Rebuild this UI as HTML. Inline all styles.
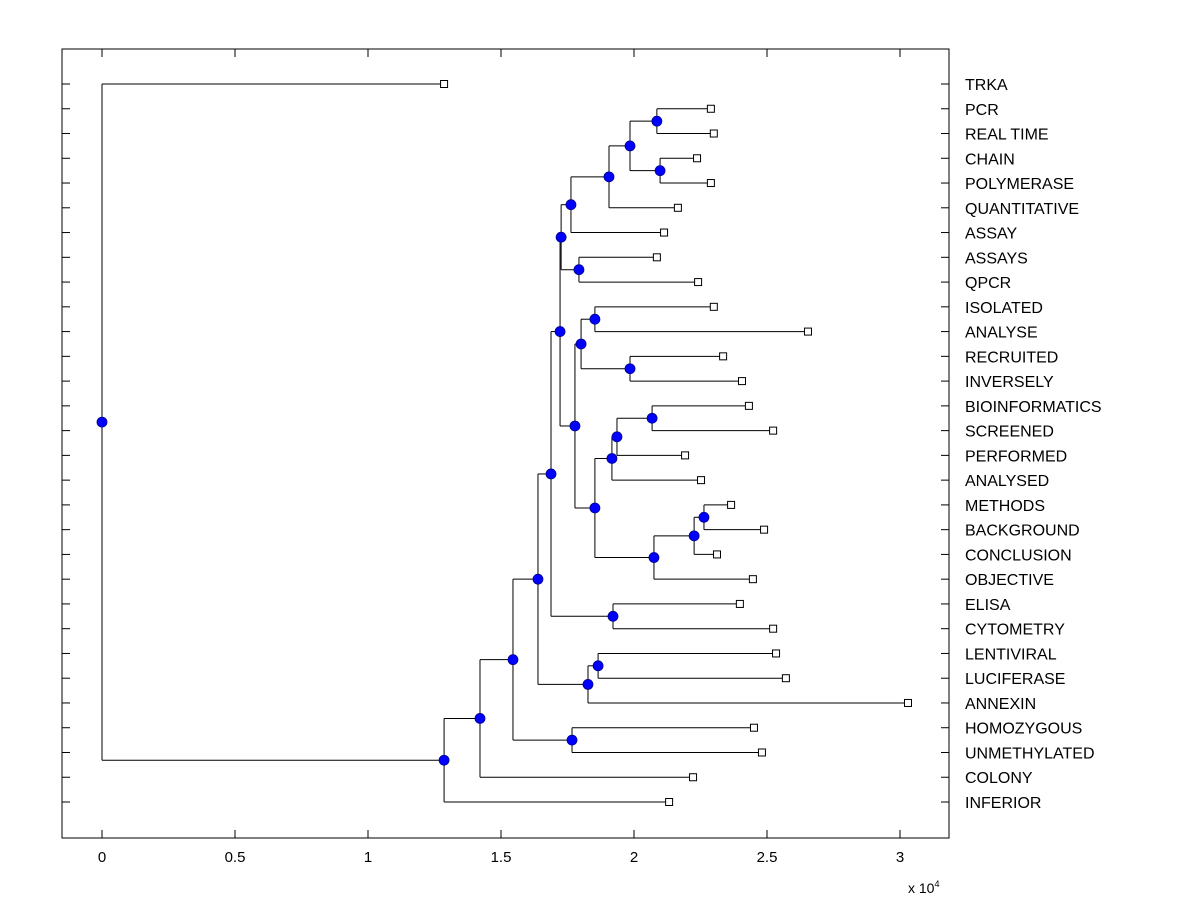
<!DOCTYPE html>
<html><head><meta charset="utf-8"><style>
body{margin:0;background:#fff;width:1200px;height:900px;overflow:hidden}
svg{display:block;font-family:"Liberation Sans",Arial,sans-serif}
</style></head><body>
<svg id="chart" width="1200" height="900"></svg>
<script>
const leafLabels=["TRKA","PCR","REAL TIME","CHAIN","POLYMERASE","QUANTITATIVE","ASSAY","ASSAYS","QPCR","ISOLATED","ANALYSE","RECRUITED","INVERSELY","BIOINFORMATICS","SCREENED","PERFORMED","ANALYSED","METHODS","BACKGROUND","CONCLUSION","OBJECTIVE","ELISA","CYTOMETRY","LENTIVIRAL","LUCIFERASE","ANNEXIN","HOMOZYGOUS","UNMETHYLATED","COLONY","INFERIOR"];
const leafValues=[1.286,2.289,2.30,2.237,2.289,2.165,2.113,2.086,2.241,2.30,2.654,2.335,2.406,2.432,2.523,2.192,2.252,2.365,2.489,2.312,2.447,2.398,2.523,2.534,2.571,3.03,2.451,2.481,2.222,2.132];
const nodeNames=["Q","R","P","O","M","N","K","U","V","S","Z","Y","W","AB","AA","X","T","L","I","J","F","H","G","D","E","C","B","A","ROOT"];
const nodeValues=[2.086,2.098,1.985,1.906,1.763,1.793,1.726,1.853,1.985,1.801,2.068,1.936,1.917,2.263,2.226,2.075,1.853,1.778,1.722,1.921,1.688,1.865,1.827,1.639,1.767,1.545,1.421,1.286,0];
const nodeChildren=[[1,2],[3,4],["Q","R"],["P",5],["O",6],[7,8],["M","N"],[9,10],[11,12],["U","V"],[13,14],["Z",15],["Y",16],[17,18],["AB",19],["AA",20],["W","X"],["S","T"],["K","L"],[21,22],["I","J"],[23,24],["H",25],["F","G"],[26,27],["D","E"],["C",28],["B",29],[0,"A"]];
const xTicks=[0,0.5,1,1.5,2,2.5,3];
const xTickLabels=["0","0.5","1","1.5","2","2.5","3"];

const L=62,R=949,T=49,B=838;
const xs=v=>102+v*266;
const ys=i=>84+i*(802-84)/29;
const svg=document.getElementById('chart');
const NS="http://www.w3.org/2000/svg";
function mk(tag,attrs,parent){const e=document.createElementNS(NS,tag);for(const k in attrs)e.setAttribute(k,attrs[k]);(parent||svg).appendChild(e);return e;}
const gAx=mk('g',{});


const box=mk('rect',{x:L,y:T,width:R-L,height:B-T,fill:'none',stroke:'#000','stroke-width':1},gAx);


xTicks.forEach((v,i)=>{
  const x=xs(v);
  mk('line',{x1:x,y1:B,x2:x,y2:B-8,stroke:'#000'},gAx);
  mk('line',{x1:x,y1:T,x2:x,y2:T+8,stroke:'#000'},gAx);
  const t=mk('text',{x:x,y:862,'font-size':15,'text-anchor':'middle'},gAx);
  t.textContent=xTickLabels[i];
  
  
});
const ex=mk('text',{x:908,y:893,'font-size':14},gAx);
ex.innerHTML='x 10<tspan dy="-6" font-size="9">4</tspan>';


leafLabels.forEach((lab,i)=>{
  const y=ys(i);
  mk('line',{x1:L,y1:y,x2:L+8,y2:y,stroke:'#000'},gAx);
  mk('line',{x1:R,y1:y,x2:R-8,y2:y,stroke:'#000'},gAx);
  const t=mk('text',{x:965,y:y+6,'font-size':16},gAx);
  t.textContent=lab;
  
  
});
const pos={};
leafLabels.forEach((_,i)=>pos[i]={x:xs(leafValues[i]),y:ys(i),leaf:true});
nodeNames.forEach((n,k)=>{
  const ch=nodeChildren[k].map(c=>pos[c]);
  pos[n]={x:xs(nodeValues[k]),y:(ch[0].y+ch[1].y)/2,ch:ch};
});
const gL=mk('g',{});


nodeNames.forEach(n=>{
  const p=pos[n];
  const ysx=p.ch.map(c=>c.y);
  mk('line',{x1:p.x,y1:Math.min(...ysx),x2:p.x,y2:Math.max(...ysx),stroke:'#000'},gL);
  p.ch.forEach(c=>mk('line',{x1:p.x,y1:c.y,x2:c.x,y2:c.y,stroke:'#000'},gL));
});
leafLabels.forEach((_,i)=>{
  const p=pos[i];
  const r=mk('rect',{x:p.x-3.5,y:p.y-3.5,width:7,height:7,fill:'#fff',stroke:'#000'});
  
  
});
nodeNames.forEach(n=>{
  const p=pos[n];
  const c=mk('circle',{cx:p.x,cy:p.y,r:5,fill:'#0000ff',stroke:'#00008b','stroke-width':0.8});
  
  
});
</script>
</body></html>
